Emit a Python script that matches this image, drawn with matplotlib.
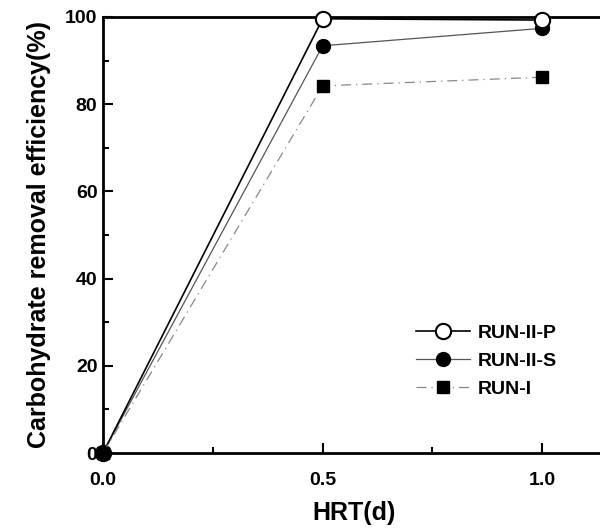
import matplotlib
matplotlib.use("Agg")
import matplotlib.pyplot as plt
from matplotlib.ticker import MultipleLocator, FixedLocator

plt.rcParams['font.family'] = ['Liberation Sans', 'DejaVu Sans']
plt.rcParams['font.weight'] = 'bold'

hrt = [0.0, 0.5, 1.0]
run_ii_p = [0.0, 99.6, 99.3]
run_ii_s = [0.0, 93.4, 97.4]
run_i = [0.0, 84.2, 86.2]
labels = ["RUN-II-P", "RUN-II-S", "RUN-I"]
xticks = [0.0, 0.5, 1.0]
xticklabels = ["0.0", "0.5", "1.0"]
yticks = [0, 20, 40, 60, 80, 100]

fig = plt.figure(figsize=(6.0, 5.28), dpi=100)
ax = fig.add_axes([103/600, 75/528, 1 - 103/600 + 0.01, (453-17)/528])

ax.plot(hrt, run_ii_p, color='black', lw=1.2, marker='o', mfc='white', mec='black',
        mew=1.5, ms=11, label=labels[0], zorder=4, clip_on=False)
ax.plot(hrt, run_ii_s, color='#555555', lw=0.9, marker='o', mfc='black', mec='black',
        ms=10, label=labels[1], zorder=3, clip_on=False)
ax.plot(hrt, run_i, color='#888888', lw=0.9, ls=(0, (8, 4, 1, 4)), marker='s',
        mfc='black', mec='black', ms=9, label=labels[2], zorder=5, clip_on=False)

ax.set_xlim(0, 1.145)
ax.set_ylim(0, 100)
ax.xaxis.set_major_locator(FixedLocator(xticks))
ax.set_xticklabels(xticklabels)
ax.xaxis.set_minor_locator(FixedLocator([0.25, 0.75]))
ax.set_yticks(yticks)
ax.yaxis.set_minor_locator(MultipleLocator(10))

ax.tick_params(which='both', direction='in', labelsize=14, width=1.5)
ax.tick_params(which='major', length=7)
ax.tick_params(which='minor', length=4)
ax.tick_params(axis='x', pad=14)
ax.tick_params(axis='y', pad=4)

for s in ['left', 'bottom', 'top']:
    ax.spines[s].set_linewidth(2)
ax.spines['right'].set_visible(False)

ax.set_xlabel("HRT(d)", fontsize=18, fontweight='bold', labelpad=8)
ax.set_ylabel("Carbohydrate removal efficiency(%)", fontsize=18, fontweight='bold', labelpad=10)

for t in ax.get_xticklabels() + ax.get_yticklabels():
    t.set_fontweight('bold')

ax.legend(loc='upper left', bbox_to_anchor=((412-103)/497, (453-324)/436), frameon=False,
          fontsize=14, handlelength=2.8, labelspacing=0.55, handletextpad=0.4,
          borderaxespad=0, borderpad=0)

fig.savefig("out.png", dpi=100)
